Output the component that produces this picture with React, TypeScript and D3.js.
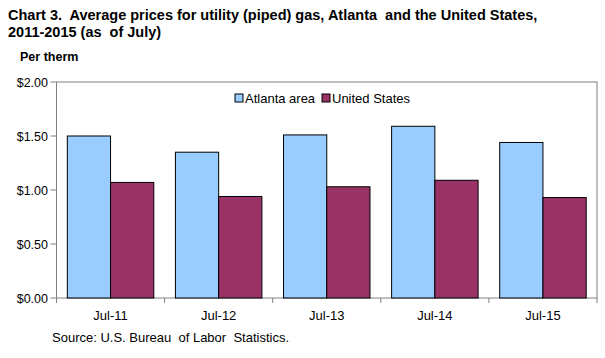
import React from "react";
import * as d3 from "d3";

const categories = ["Jul-11", "Jul-12", "Jul-13", "Jul-14", "Jul-15"];
const seriesNames = ["Atlanta area", "United States"];
const atlanta = [1.5, 1.35, 1.51, 1.59, 1.44];
const unitedStates = [1.07, 0.94, 1.03, 1.09, 0.93];
const yTicks = [0, 0.5, 1.0, 1.5, 2.0];
const colors = ["#99CCFF", "#993366"];

export default function App() {
  const W = 605, H = 358;
  const left = 56.5, right = 597, top = 82, bottom = 298;
  const font = "Liberation Sans, Arial, sans-serif";
  const y = d3.scaleLinear().domain([0, 2]).range([bottom, top]);
  const x0 = d3.scaleBand().domain(categories).range([left, right]).paddingInner(0.2).paddingOuter(0.1);
  const x1 = d3.scaleBand().domain(seriesNames).range([0, x0.bandwidth()]);
  const series = [atlanta, unitedStates];
  const step = (right - left) / categories.length;
  const pre = { whiteSpace: "pre" } as React.CSSProperties;
  return (
    <svg width={W} height={H} style={{ position: "absolute", left: 0, top: 0, background: "#fff" }}>
      <text x={8} y={20} fontFamily={font} fontWeight="bold" fontSize={14.5} style={pre}>
        {"Chart 3.  Average prices for utility (piped) gas, Atlanta  and the United States,"}
      </text>
      <text x={8} y={37} fontFamily={font} fontWeight="bold" fontSize={14.5} style={pre}>
        {"2011-2015 (as  of July)"}
      </text>
      <text x={20} y={61} fontFamily={font} fontWeight="bold" fontSize={12.5}>
        Per therm
      </text>
      <rect x={left} y={top} width={right - left} height={bottom - top} fill="none" stroke="#808080" strokeWidth={1} />
      {yTicks.map((t) => (
        <g key={t}>
          <line x1={left - 6} x2={left} y1={y(t)} y2={y(t)} stroke="#808080" />
          <text x={48} y={y(t) + 4.5} textAnchor="end" fontFamily={font} fontSize={12.5}>
            {d3.format("$.2f")(t)}
          </text>
        </g>
      ))}
      {d3.range(categories.length + 1).map((i) => (
        <line key={i} x1={left + i * step} x2={left + i * step} y1={bottom} y2={bottom + 5} stroke="#808080" />
      ))}
      {categories.map((c, i) => (
        <g key={c}>
          {series.map((s, j) => (
            <rect
              key={j}
              x={(x0(c) as number) + (x1(seriesNames[j]) as number)}
              y={y(s[i])}
              width={x1.bandwidth()}
              height={bottom - y(s[i])}
              fill={colors[j]}
              stroke="#000"
              strokeWidth={1}
            />
          ))}
          <text x={(x0(c) as number) + x0.bandwidth() / 2} y={319.5} textAnchor="middle" fontFamily={font} fontSize={13}>
            {c}
          </text>
        </g>
      ))}
      <g>
        <rect x={235} y={94} width={8} height={8} fill={colors[0]} stroke="#000" />
        <text x={245} y={103} fontFamily={font} fontSize={13}>Atlanta area</text>
        <rect x={322} y={94} width={8} height={8} fill={colors[1]} stroke="#000" />
        <text x={332} y={103} fontFamily={font} fontSize={13}>United States</text>
      </g>
      <text x={52} y={341.5} fontFamily={font} fontSize={13} style={pre}>
        {"Source: U.S. Bureau  of Labor  Statistics."}
      </text>
    </svg>
  );
}
